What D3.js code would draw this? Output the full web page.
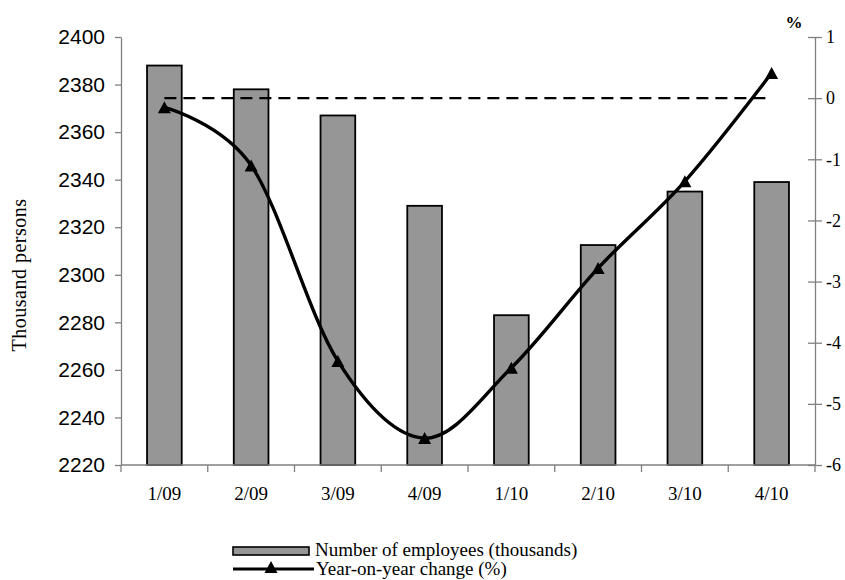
<!DOCTYPE html>
<html>
<head>
<meta charset="utf-8">
<script src="https://cdn.jsdelivr.net/npm/d3@7"></script>
<style>
  html, body { margin: 0; padding: 0; background: #fff; }
  svg { display: block; }
</style>
</head>
<body>
<svg id="chart" width="845" height="580"></svg>
<script>
// Quarterly employment: head count (bars, left axis) and year-on-year change (line, right axis)
const categories = ["1/09", "2/09", "3/09", "4/09", "1/10", "2/10", "3/10", "4/10"];
const employees = [2388, 2378, 2367, 2329, 2283, 2312.5, 2335, 2339];
const yoyChange = [-0.15, -1.10, -4.30, -5.56, -4.41, -2.78, -1.36, 0.41];
const zeroLine = [0, 0, 0, 0, 0, 0, 0, 0];
const leftTicks = [2220, 2240, 2260, 2280, 2300, 2320, 2340, 2360, 2380, 2400];
const rightTicks = [-6, -5, -4, -3, -2, -1, 0, 1];
const legendLabels = ["Number of employees (thousands)", "Year-on-year change (%)"];

const svg = d3.select("#chart");
const plot = { left: 121, right: 815, top: 37, bottom: 465 };
const serif = "'Liberation Serif', 'Times New Roman', serif";
const sans = "'Liberation Sans', Arial, sans-serif";
const axisGrey = "#808080";
const barGrey = "#969696";

const x = d3.scaleBand()
  .domain(categories)
  .range([plot.left, plot.right])
  .paddingInner(0.6)
  .paddingOuter(0.3);

const yLeft = d3.scaleLinear().domain([2220, 2400]).range([plot.bottom, plot.top]);
const yRight = d3.scaleLinear().domain([-6, 1]).range([plot.bottom, plot.top]);

// Bars
svg.append("g")
  .selectAll("rect")
  .data(employees)
  .join("rect")
  .attr("x", (d, i) => x(categories[i]))
  .attr("y", d => yLeft(d))
  .attr("width", x.bandwidth())
  .attr("height", d => yLeft(2220) - yLeft(d))
  .attr("fill", barGrey)
  .attr("stroke", "#000")
  .attr("stroke-width", 1.8);

// Left axis
const leftAxis = svg.append("g")
  .attr("transform", `translate(${plot.left},0)`)
  .call(d3.axisLeft(yLeft).tickValues(leftTicks).tickFormat(d => String(d))
    .tickSize(6).tickPadding(10).tickSizeOuter(0));
leftAxis.select(".domain").attr("stroke", axisGrey).attr("stroke-width", 1.3);
leftAxis.selectAll(".tick line").attr("stroke", axisGrey).attr("stroke-width", 1.3);
leftAxis.selectAll(".tick text")
  .attr("font-family", sans).attr("font-size", 21).attr("fill", "#000");

// Right axis (ticks cross the axis line)
const rightAxis = svg.append("g")
  .attr("transform", `translate(${plot.right},0)`)
  .call(d3.axisRight(yRight).tickValues(rightTicks).tickFormat(d => String(d))
    .tickSize(7).tickPadding(4).tickSizeOuter(0));
rightAxis.select(".domain").attr("stroke", axisGrey).attr("stroke-width", 1.3);
rightAxis.selectAll(".tick line").attr("x1", -7).attr("stroke", axisGrey).attr("stroke-width", 1.3);
rightAxis.selectAll(".tick text")
  .attr("font-family", serif).attr("font-size", 18).attr("fill", "#000");

// Bottom axis with ticks at category boundaries
const bottom = svg.append("g").attr("transform", `translate(0,${plot.bottom})`);
bottom.append("line")
  .attr("x1", plot.left).attr("x2", plot.right)
  .attr("stroke", axisGrey).attr("stroke-width", 1.3);
const step = x.step();
bottom.selectAll("line.tick")
  .data(d3.range(categories.length + 1))
  .join("line")
  .attr("class", "tick")
  .attr("x1", i => plot.left + i * step)
  .attr("x2", i => plot.left + i * step)
  .attr("y1", 0).attr("y2", 7)
  .attr("stroke", axisGrey).attr("stroke-width", 1.3);
bottom.selectAll("text")
  .data(categories)
  .join("text")
  .attr("x", d => x(d) + x.bandwidth() / 2)
  .attr("y", 35)
  .attr("text-anchor", "middle")
  .attr("font-family", serif)
  .attr("font-size", 19)
  .text(d => d);

// Axis titles
svg.append("text")
  .attr("transform", "translate(26,275) rotate(-90)")
  .attr("text-anchor", "middle")
  .attr("font-family", serif)
  .attr("font-size", 20)
  .attr("letter-spacing", 0.5)
  .text("Thousand persons");

svg.append("text")
  .attr("x", 794).attr("y", 28)
  .attr("text-anchor", "middle")
  .attr("font-family", serif)
  .attr("font-weight", "bold")
  .attr("font-size", 17)
  .text("%");

const cx = (d, i) => x(categories[i]) + x.bandwidth() / 2;

// Zero reference line on the right scale
svg.append("path")
  .datum(zeroLine)
  .attr("d", d3.line().x(cx).y(d => yRight(d)))
  .attr("fill", "none")
  .attr("stroke", "#000")
  .attr("stroke-width", 2.2)
  .attr("stroke-dasharray", "12,7");

// Year-on-year change line (smoothed)
svg.append("path")
  .datum(yoyChange)
  .attr("d", d3.line().x(cx).y(d => yRight(d)).curve(d3.curveCardinal.tension(0)))
  .attr("fill", "none")
  .attr("stroke", "#000")
  .attr("stroke-width", 3.4)
  .attr("stroke-linejoin", "round");

const triangle = (w, h) => `M0,${-h / 2}L${w / 2},${h / 2}L${-w / 2},${h / 2}Z`;

svg.append("g")
  .selectAll("path")
  .data(yoyChange)
  .join("path")
  .attr("transform", (d, i) => `translate(${cx(d, i)},${yRight(d)})`)
  .attr("d", triangle(13, 12))
  .attr("fill", "#000");

// Legend
const legend = svg.append("g");
legend.append("rect")
  .attr("x", 233).attr("y", 547)
  .attr("width", 76).attr("height", 8)
  .attr("fill", barGrey)
  .attr("stroke", "#000")
  .attr("stroke-width", 1.6);
legend.append("text")
  .attr("x", 315).attr("y", 556)
  .attr("font-family", serif).attr("font-size", 19)
  .text(legendLabels[0]);
legend.append("line")
  .attr("x1", 233).attr("x2", 314)
  .attr("y1", 569).attr("y2", 569)
  .attr("stroke", "#000").attr("stroke-width", 3.2);
legend.append("path")
  .attr("transform", "translate(271,567)")
  .attr("d", triangle(13, 12))
  .attr("fill", "#000");
legend.append("text")
  .attr("x", 316).attr("y", 575)
  .attr("font-family", serif).attr("font-size", 19)
  .text(legendLabels[1]);
</script>
</body>
</html>
